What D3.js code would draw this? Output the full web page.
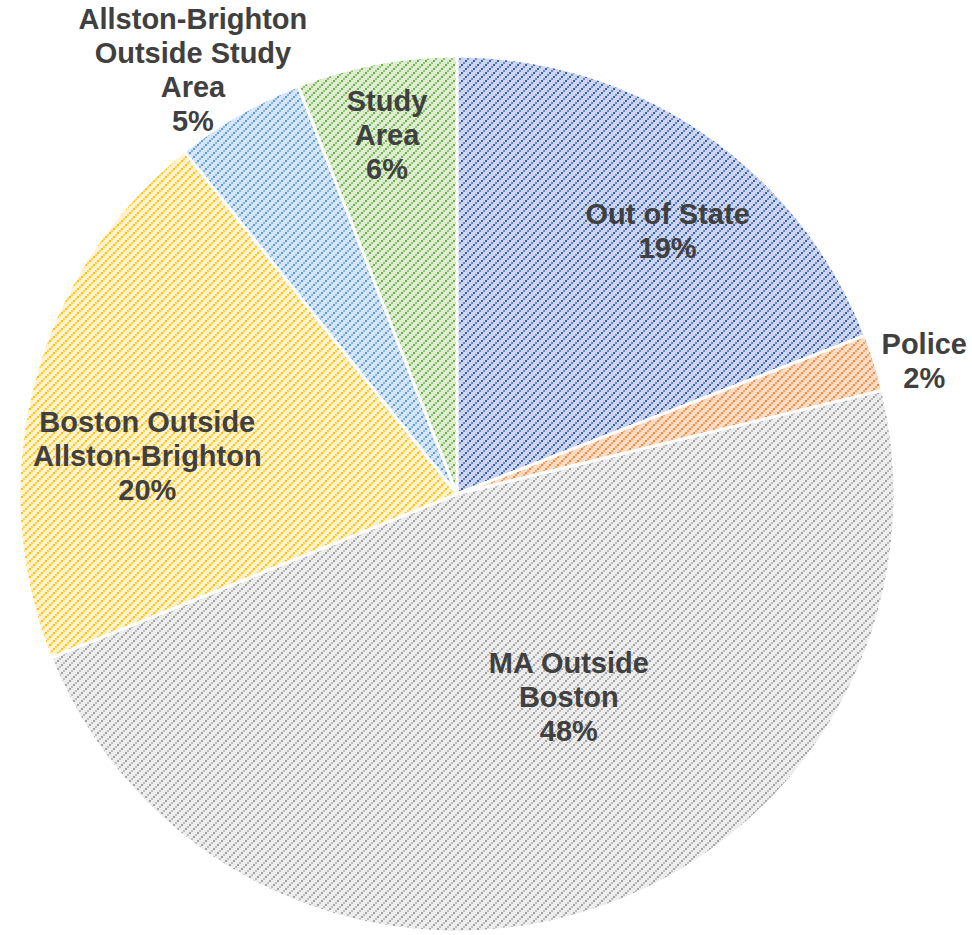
<!DOCTYPE html>
<html>
<head>
<meta charset="utf-8">
<script src="https://cdn.jsdelivr.net/npm/d3@7"></script>
<style>
  body { margin: 0; background: #fff; }
  svg { display: block; }
</style>
</head>
<body>
<div id="chart"></div>
<script>
// slice data, clockwise from 12 o'clock
const categories = ["Out of State", "Police", "MA Outside Boston", "Boston Outside Allston-Brighton", "Allston-Brighton Outside Study Area", "Study Area"];
const values = [19.1, 2.1, 47.7, 20.4, 4.8, 5.9];
const labelLines = [
  ["Out of State"],
  ["Police"],
  ["MA Outside", "Boston"],
  ["Boston Outside", "Allston-Brighton"],
  ["Allston-Brighton", "Outside Study", "Area"],
  ["Study", "Area"]
];

const dotColors = ["#3a5ea9", "#f2883a", "#a3a3a3", "#ffc000", "#5b9bd5", "#70ad47"];
const bgColors  = ["#cbd6ee", "#fcdcc5", "#ededed", "#fff2cc", "#d7e6f6", "#dcedd1"];
// label placement: radius from centre and angle shift (degrees)
const labelRadius = [337, 486, 232, 312, 500, 366];
const labelShift  = [4.3, 1.5, -11, -7.8, -2, -0.4];

const width = 972, height = 935;
const cx = 457, cy = 494, radius = 438;

const svg = d3.select("#chart").append("svg")
  .attr("width", width)
  .attr("height", height);

// upward diagonal dotted pattern, 8px period
const defs = svg.append("defs");
categories.forEach((c, i) => {
  const p = defs.append("pattern")
    .attr("id", "pat" + i)
    .attr("patternUnits", "userSpaceOnUse")
    .attr("width", 8)
    .attr("height", 8);
  p.append("rect").attr("width", 8).attr("height", 8).attr("fill", bgColors[i]);
  [0, 2, 4, 6].forEach((s, k) => {
    p.append("rect")
      .attr("x", s).attr("y", 6 - s)
      .attr("width", 2).attr("height", 2)
      .attr("fill", dotColors[i])
      .attr("fill-opacity", k % 2 ? 0.65 : 1);
  });
});

const pie = d3.pie().sort(null).value(d => d);
const arcs = pie(values);
const arc = d3.arc().innerRadius(0).outerRadius(radius);

const g = svg.append("g").attr("transform", `translate(${cx},${cy})`);

g.selectAll("path.slice")
  .data(arcs)
  .enter()
  .append("path")
  .attr("class", "slice")
  .attr("d", arc)
  .attr("fill", (d, i) => `url(#pat${i})`)
  .attr("stroke", "#fff")
  .attr("stroke-width", 3)
  .attr("stroke-linejoin", "round");

// labels
const lineH = 34;
arcs.forEach((d, i) => {
  const mid = (d.startAngle + d.endAngle) / 2 + labelShift[i] * Math.PI / 180;
  const x = Math.sin(mid) * labelRadius[i];
  const y = -Math.cos(mid) * labelRadius[i];
  const lines = labelLines[i].concat([Math.round(values[i]) + "%"]);
  const t = g.append("text")
    .attr("text-anchor", "middle")
    .attr("font-family", "Liberation Sans, Arial, sans-serif")
    .attr("font-weight", "bold")
    .attr("font-size", "29px")
    .attr("fill", "#404040");
  lines.forEach((s, k) => {
    t.append("tspan")
      .attr("x", x)
      .attr("y", y + (k - (lines.length - 1) / 2) * lineH)
      .attr("dy", "0.35em")
      .text(s);
  });
});
</script>
</body>
</html>
